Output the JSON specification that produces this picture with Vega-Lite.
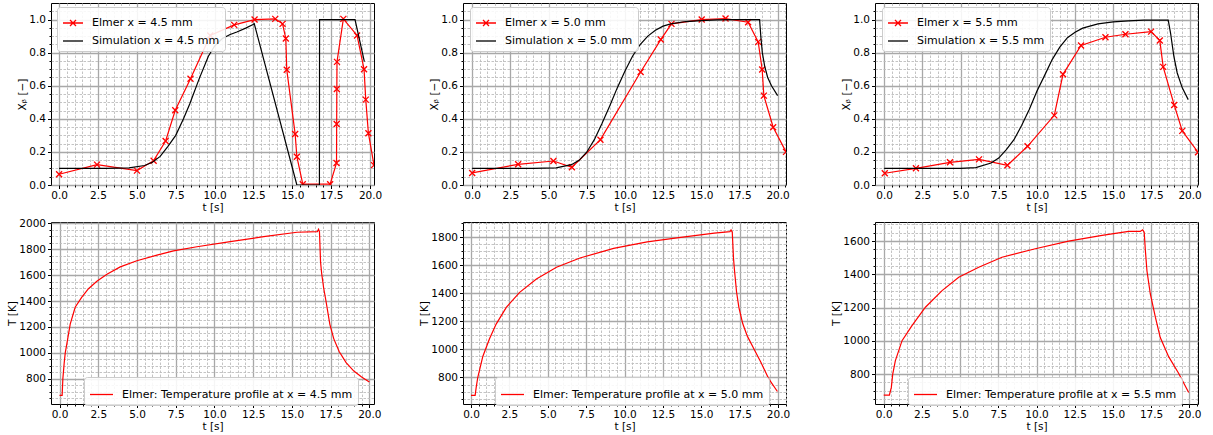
{
  "$schema": "https://vega.github.io/schema/vega-lite/v6.json",
  "background": "white",
  "padding": {"left": 7, "top": 2, "right": 5, "bottom": 3},
  "autosize": {"type": "pad"},
  "columns": 3,
  "spacing": {"row": 37, "column": 89},
  "bounds": "flush",
  "resolve": {"scale": {"color": "independent", "x": "independent", "y": "independent"}, "legend": {"color": "independent"}},
  "config": {
    "font": "DejaVu Sans",
    "view": {"stroke": "#000000", "strokeWidth": 1},
    "axis": {"labelFont": "DejaVu Sans", "labelFontSize": 10.5, "titleFont": "DejaVu Sans", "titleFontSize": 10.5, "titleFontWeight": "normal", "labelColor": "#000000", "titleColor": "#000000", "tickColor": "#000000", "domain": false, "labelPadding": 2, "titlePadding": 1, "labelOverlap": false, "labelFlush": false, "grid": true},
    "legend": {"labelFont": "DejaVu Sans", "labelFontSize": 11, "labelLimit": 500, "labelColor": "#000000", "fillColor": "rgba(255,255,255,0.88)", "strokeColor": "#cccccc", "cornerRadius": 3, "padding": 5, "symbolStrokeWidth": 1.3, "labelOffset": 8, "rowPadding": 1, "symbolType": "stroke"}
  },
  "datasets": {
    "top45": [
      {"t": 0, "X": 0.065, "series": "Elmer x = 4.5 mm"},
      {"t": 2.44, "X": 0.123, "series": "Elmer x = 4.5 mm"},
      {"t": 5.01, "X": 0.087, "series": "Elmer x = 4.5 mm"},
      {"t": 6.08, "X": 0.147, "series": "Elmer x = 4.5 mm"},
      {"t": 6.85, "X": 0.266, "series": "Elmer x = 4.5 mm"},
      {"t": 7.47, "X": 0.452, "series": "Elmer x = 4.5 mm"},
      {"t": 8.45, "X": 0.642, "series": "Elmer x = 4.5 mm"},
      {"t": 9.72, "X": 0.904, "series": "Elmer x = 4.5 mm"},
      {"t": 11.26, "X": 0.968, "series": "Elmer x = 4.5 mm"},
      {"t": 12.57, "X": 1.0, "series": "Elmer x = 4.5 mm"},
      {"t": 13.9, "X": 1.004, "series": "Elmer x = 4.5 mm"},
      {"t": 14.37, "X": 0.974, "series": "Elmer x = 4.5 mm"},
      {"t": 14.58, "X": 0.885, "series": "Elmer x = 4.5 mm"},
      {"t": 14.64, "X": 0.697, "series": "Elmer x = 4.5 mm"},
      {"t": 15.18, "X": 0.308, "series": "Elmer x = 4.5 mm"},
      {"t": 15.29, "X": 0.171, "series": "Elmer x = 4.5 mm"},
      {"t": 15.67, "X": 0.005, "series": "Elmer x = 4.5 mm"},
      {"t": 17.43, "X": 0.005, "series": "Elmer x = 4.5 mm"},
      {"t": 17.84, "X": 0.133, "series": "Elmer x = 4.5 mm"},
      {"t": 17.85, "X": 0.369, "series": "Elmer x = 4.5 mm"},
      {"t": 17.86, "X": 0.58, "series": "Elmer x = 4.5 mm"},
      {"t": 17.87, "X": 0.744, "series": "Elmer x = 4.5 mm"},
      {"t": 18.28, "X": 1.004, "series": "Elmer x = 4.5 mm"},
      {"t": 19.16, "X": 0.904, "series": "Elmer x = 4.5 mm"},
      {"t": 19.61, "X": 0.7, "series": "Elmer x = 4.5 mm"},
      {"t": 19.72, "X": 0.516, "series": "Elmer x = 4.5 mm"},
      {"t": 19.89, "X": 0.313, "series": "Elmer x = 4.5 mm"},
      {"t": 20.25, "X": 0.12, "series": "Elmer x = 4.5 mm"},
      {"t": 0, "X": 0.1, "series": "Simulation x = 4.5 mm"},
      {"t": 3, "X": 0.1, "series": "Simulation x = 4.5 mm"},
      {"t": 4.5, "X": 0.103, "series": "Simulation x = 4.5 mm"},
      {"t": 5.5, "X": 0.118, "series": "Simulation x = 4.5 mm"},
      {"t": 6.0, "X": 0.137, "series": "Simulation x = 4.5 mm"},
      {"t": 6.5, "X": 0.173, "series": "Simulation x = 4.5 mm"},
      {"t": 7.0, "X": 0.234, "series": "Simulation x = 4.5 mm"},
      {"t": 7.5, "X": 0.3, "series": "Simulation x = 4.5 mm"},
      {"t": 8.0, "X": 0.4, "series": "Simulation x = 4.5 mm"},
      {"t": 8.4, "X": 0.49, "series": "Simulation x = 4.5 mm"},
      {"t": 9.0, "X": 0.64, "series": "Simulation x = 4.5 mm"},
      {"t": 9.6, "X": 0.778, "series": "Simulation x = 4.5 mm"},
      {"t": 10.0, "X": 0.84, "series": "Simulation x = 4.5 mm"},
      {"t": 10.5, "X": 0.885, "series": "Simulation x = 4.5 mm"},
      {"t": 11.0, "X": 0.91, "series": "Simulation x = 4.5 mm"},
      {"t": 11.43, "X": 0.925, "series": "Simulation x = 4.5 mm"},
      {"t": 12.0, "X": 0.948, "series": "Simulation x = 4.5 mm"},
      {"t": 12.44, "X": 0.968, "series": "Simulation x = 4.5 mm"},
      {"t": 12.55, "X": 0.975, "series": "Simulation x = 4.5 mm"},
      {"t": 15.29, "X": 0.0, "series": "Simulation x = 4.5 mm"},
      {"t": 16.74, "X": 0.0, "series": "Simulation x = 4.5 mm"},
      {"t": 16.75, "X": 1.0, "series": "Simulation x = 4.5 mm"},
      {"t": 19.03, "X": 1.0, "series": "Simulation x = 4.5 mm"},
      {"t": 19.63, "X": 0.745, "series": "Simulation x = 4.5 mm"}
    ],
    "top50": [
      {"t": 0, "X": 0.073, "series": "Elmer x = 5.0 mm"},
      {"t": 3.01, "X": 0.125, "series": "Elmer x = 5.0 mm"},
      {"t": 5.32, "X": 0.145, "series": "Elmer x = 5.0 mm"},
      {"t": 6.53, "X": 0.107, "series": "Elmer x = 5.0 mm"},
      {"t": 8.4, "X": 0.274, "series": "Elmer x = 5.0 mm"},
      {"t": 11.03, "X": 0.683, "series": "Elmer x = 5.0 mm"},
      {"t": 12.35, "X": 0.879, "series": "Elmer x = 5.0 mm"},
      {"t": 13.05, "X": 0.974, "series": "Elmer x = 5.0 mm"},
      {"t": 15.03, "X": 1.0, "series": "Elmer x = 5.0 mm"},
      {"t": 16.59, "X": 1.006, "series": "Elmer x = 5.0 mm"},
      {"t": 18.07, "X": 0.984, "series": "Elmer x = 5.0 mm"},
      {"t": 18.73, "X": 0.865, "series": "Elmer x = 5.0 mm"},
      {"t": 18.99, "X": 0.698, "series": "Elmer x = 5.0 mm"},
      {"t": 19.1, "X": 0.54, "series": "Elmer x = 5.0 mm"},
      {"t": 19.71, "X": 0.349, "series": "Elmer x = 5.0 mm"},
      {"t": 20.55, "X": 0.2, "series": "Elmer x = 5.0 mm"},
      {"t": 0, "X": 0.1, "series": "Simulation x = 5.0 mm"},
      {"t": 4, "X": 0.1, "series": "Simulation x = 5.0 mm"},
      {"t": 5.5, "X": 0.103, "series": "Simulation x = 5.0 mm"},
      {"t": 6.5, "X": 0.123, "series": "Simulation x = 5.0 mm"},
      {"t": 7.0, "X": 0.149, "series": "Simulation x = 5.0 mm"},
      {"t": 7.5, "X": 0.198, "series": "Simulation x = 5.0 mm"},
      {"t": 8.0, "X": 0.274, "series": "Simulation x = 5.0 mm"},
      {"t": 8.5, "X": 0.371, "series": "Simulation x = 5.0 mm"},
      {"t": 9.0, "X": 0.476, "series": "Simulation x = 5.0 mm"},
      {"t": 9.5, "X": 0.587, "series": "Simulation x = 5.0 mm"},
      {"t": 10.0, "X": 0.688, "series": "Simulation x = 5.0 mm"},
      {"t": 10.5, "X": 0.778, "series": "Simulation x = 5.0 mm"},
      {"t": 11.0, "X": 0.849, "series": "Simulation x = 5.0 mm"},
      {"t": 11.5, "X": 0.9, "series": "Simulation x = 5.0 mm"},
      {"t": 12.0, "X": 0.935, "series": "Simulation x = 5.0 mm"},
      {"t": 12.5, "X": 0.96, "series": "Simulation x = 5.0 mm"},
      {"t": 13.0, "X": 0.974, "series": "Simulation x = 5.0 mm"},
      {"t": 14.0, "X": 0.988, "series": "Simulation x = 5.0 mm"},
      {"t": 15.0, "X": 0.994, "series": "Simulation x = 5.0 mm"},
      {"t": 16.0, "X": 0.998, "series": "Simulation x = 5.0 mm"},
      {"t": 17.0, "X": 1.0, "series": "Simulation x = 5.0 mm"},
      {"t": 18.82, "X": 1.0, "series": "Simulation x = 5.0 mm"},
      {"t": 18.9, "X": 0.9, "series": "Simulation x = 5.0 mm"},
      {"t": 19.0, "X": 0.8, "series": "Simulation x = 5.0 mm"},
      {"t": 19.15, "X": 0.72, "series": "Simulation x = 5.0 mm"},
      {"t": 19.35, "X": 0.65, "series": "Simulation x = 5.0 mm"},
      {"t": 19.6, "X": 0.6, "series": "Simulation x = 5.0 mm"},
      {"t": 20.0, "X": 0.54, "series": "Simulation x = 5.0 mm"}
    ],
    "top55": [
      {"t": 0.04, "X": 0.071, "series": "Elmer x = 5.5 mm"},
      {"t": 2.08, "X": 0.101, "series": "Elmer x = 5.5 mm"},
      {"t": 4.31, "X": 0.137, "series": "Elmer x = 5.5 mm"},
      {"t": 6.21, "X": 0.155, "series": "Elmer x = 5.5 mm"},
      {"t": 8.07, "X": 0.119, "series": "Elmer x = 5.5 mm"},
      {"t": 9.39, "X": 0.234, "series": "Elmer x = 5.5 mm"},
      {"t": 11.14, "X": 0.421, "series": "Elmer x = 5.5 mm"},
      {"t": 11.71, "X": 0.669, "series": "Elmer x = 5.5 mm"},
      {"t": 12.89, "X": 0.843, "series": "Elmer x = 5.5 mm"},
      {"t": 14.49, "X": 0.893, "series": "Elmer x = 5.5 mm"},
      {"t": 15.8, "X": 0.911, "series": "Elmer x = 5.5 mm"},
      {"t": 17.48, "X": 0.927, "series": "Elmer x = 5.5 mm"},
      {"t": 18.05, "X": 0.873, "series": "Elmer x = 5.5 mm"},
      {"t": 18.27, "X": 0.714, "series": "Elmer x = 5.5 mm"},
      {"t": 18.99, "X": 0.484, "series": "Elmer x = 5.5 mm"},
      {"t": 19.52, "X": 0.327, "series": "Elmer x = 5.5 mm"},
      {"t": 20.55, "X": 0.198, "series": "Elmer x = 5.5 mm"},
      {"t": 0, "X": 0.1, "series": "Simulation x = 5.5 mm"},
      {"t": 5, "X": 0.101, "series": "Simulation x = 5.5 mm"},
      {"t": 6, "X": 0.105, "series": "Simulation x = 5.5 mm"},
      {"t": 7.0, "X": 0.133, "series": "Simulation x = 5.5 mm"},
      {"t": 7.5, "X": 0.163, "series": "Simulation x = 5.5 mm"},
      {"t": 8.0, "X": 0.214, "series": "Simulation x = 5.5 mm"},
      {"t": 8.5, "X": 0.274, "series": "Simulation x = 5.5 mm"},
      {"t": 9.0, "X": 0.359, "series": "Simulation x = 5.5 mm"},
      {"t": 9.5, "X": 0.456, "series": "Simulation x = 5.5 mm"},
      {"t": 10.0, "X": 0.567, "series": "Simulation x = 5.5 mm"},
      {"t": 10.5, "X": 0.661, "series": "Simulation x = 5.5 mm"},
      {"t": 11.0, "X": 0.758, "series": "Simulation x = 5.5 mm"},
      {"t": 11.5, "X": 0.833, "series": "Simulation x = 5.5 mm"},
      {"t": 12.0, "X": 0.89, "series": "Simulation x = 5.5 mm"},
      {"t": 12.5, "X": 0.923, "series": "Simulation x = 5.5 mm"},
      {"t": 13.0, "X": 0.948, "series": "Simulation x = 5.5 mm"},
      {"t": 14.0, "X": 0.974, "series": "Simulation x = 5.5 mm"},
      {"t": 15.0, "X": 0.986, "series": "Simulation x = 5.5 mm"},
      {"t": 16.0, "X": 0.992, "series": "Simulation x = 5.5 mm"},
      {"t": 17.0, "X": 0.996, "series": "Simulation x = 5.5 mm"},
      {"t": 18.6, "X": 0.996, "series": "Simulation x = 5.5 mm"},
      {"t": 18.75, "X": 0.92, "series": "Simulation x = 5.5 mm"},
      {"t": 18.97, "X": 0.778, "series": "Simulation x = 5.5 mm"},
      {"t": 19.19, "X": 0.677, "series": "Simulation x = 5.5 mm"},
      {"t": 19.52, "X": 0.587, "series": "Simulation x = 5.5 mm"},
      {"t": 19.91, "X": 0.516, "series": "Simulation x = 5.5 mm"}
    ],
    "bot45": [
      {"t": 0, "T": 673, "series": "Elmer: Temperature profile at x = 4.5 mm"},
      {"t": 0.17, "T": 673, "series": "Elmer: Temperature profile at x = 4.5 mm"},
      {"t": 0.215, "T": 800, "series": "Elmer: Temperature profile at x = 4.5 mm"},
      {"t": 0.3, "T": 920, "series": "Elmer: Temperature profile at x = 4.5 mm"},
      {"t": 0.37, "T": 1000, "series": "Elmer: Temperature profile at x = 4.5 mm"},
      {"t": 0.47, "T": 1067, "series": "Elmer: Temperature profile at x = 4.5 mm"},
      {"t": 0.69, "T": 1222, "series": "Elmer: Temperature profile at x = 4.5 mm"},
      {"t": 1.01, "T": 1352, "series": "Elmer: Temperature profile at x = 4.5 mm"},
      {"t": 1.44, "T": 1430, "series": "Elmer: Temperature profile at x = 4.5 mm"},
      {"t": 1.87, "T": 1495, "series": "Elmer: Temperature profile at x = 4.5 mm"},
      {"t": 2.41, "T": 1552, "series": "Elmer: Temperature profile at x = 4.5 mm"},
      {"t": 3.06, "T": 1606, "series": "Elmer: Temperature profile at x = 4.5 mm"},
      {"t": 3.92, "T": 1663, "series": "Elmer: Temperature profile at x = 4.5 mm"},
      {"t": 4.99, "T": 1710, "series": "Elmer: Temperature profile at x = 4.5 mm"},
      {"t": 6.29, "T": 1754, "series": "Elmer: Temperature profile at x = 4.5 mm"},
      {"t": 7.36, "T": 1787, "series": "Elmer: Temperature profile at x = 4.5 mm"},
      {"t": 8.87, "T": 1818, "series": "Elmer: Temperature profile at x = 4.5 mm"},
      {"t": 11.02, "T": 1857, "series": "Elmer: Temperature profile at x = 4.5 mm"},
      {"t": 13.18, "T": 1896, "series": "Elmer: Temperature profile at x = 4.5 mm"},
      {"t": 15.33, "T": 1930, "series": "Elmer: Temperature profile at x = 4.5 mm"},
      {"t": 16.65, "T": 1935, "series": "Elmer: Temperature profile at x = 4.5 mm"},
      {"t": 16.72, "T": 1953, "series": "Elmer: Temperature profile at x = 4.5 mm"},
      {"t": 16.78, "T": 1935, "series": "Elmer: Temperature profile at x = 4.5 mm"},
      {"t": 16.85, "T": 1700, "series": "Elmer: Temperature profile at x = 4.5 mm"},
      {"t": 16.92, "T": 1614, "series": "Elmer: Temperature profile at x = 4.5 mm"},
      {"t": 17.05, "T": 1500, "series": "Elmer: Temperature profile at x = 4.5 mm"},
      {"t": 17.2, "T": 1400, "series": "Elmer: Temperature profile at x = 4.5 mm"},
      {"t": 17.45, "T": 1220, "series": "Elmer: Temperature profile at x = 4.5 mm"},
      {"t": 17.7, "T": 1110, "series": "Elmer: Temperature profile at x = 4.5 mm"},
      {"t": 18.05, "T": 1010, "series": "Elmer: Temperature profile at x = 4.5 mm"},
      {"t": 18.5, "T": 925, "series": "Elmer: Temperature profile at x = 4.5 mm"},
      {"t": 19.0, "T": 860, "series": "Elmer: Temperature profile at x = 4.5 mm"},
      {"t": 19.5, "T": 815, "series": "Elmer: Temperature profile at x = 4.5 mm"},
      {"t": 20.0, "T": 775, "series": "Elmer: Temperature profile at x = 4.5 mm"}
    ],
    "bot50": [
      {"t": 0, "T": 673, "series": "Elmer: Temperature profile at x = 5.0 mm"},
      {"t": 0.27, "T": 673, "series": "Elmer: Temperature profile at x = 5.0 mm"},
      {"t": 0.34, "T": 730, "series": "Elmer: Temperature profile at x = 5.0 mm"},
      {"t": 0.44, "T": 800, "series": "Elmer: Temperature profile at x = 5.0 mm"},
      {"t": 0.77, "T": 950, "series": "Elmer: Temperature profile at x = 5.0 mm"},
      {"t": 1.2, "T": 1074, "series": "Elmer: Temperature profile at x = 5.0 mm"},
      {"t": 1.64, "T": 1181, "series": "Elmer: Temperature profile at x = 5.0 mm"},
      {"t": 2.3, "T": 1300, "series": "Elmer: Temperature profile at x = 5.0 mm"},
      {"t": 3.17, "T": 1407, "series": "Elmer: Temperature profile at x = 5.0 mm"},
      {"t": 4.26, "T": 1502, "series": "Elmer: Temperature profile at x = 5.0 mm"},
      {"t": 5.57, "T": 1586, "series": "Elmer: Temperature profile at x = 5.0 mm"},
      {"t": 7.1, "T": 1652, "series": "Elmer: Temperature profile at x = 5.0 mm"},
      {"t": 9.29, "T": 1721, "series": "Elmer: Temperature profile at x = 5.0 mm"},
      {"t": 11.48, "T": 1767, "series": "Elmer: Temperature profile at x = 5.0 mm"},
      {"t": 13.66, "T": 1800, "series": "Elmer: Temperature profile at x = 5.0 mm"},
      {"t": 15.85, "T": 1829, "series": "Elmer: Temperature profile at x = 5.0 mm"},
      {"t": 16.87, "T": 1840, "series": "Elmer: Temperature profile at x = 5.0 mm"},
      {"t": 16.94, "T": 1852, "series": "Elmer: Temperature profile at x = 5.0 mm"},
      {"t": 17.02, "T": 1836, "series": "Elmer: Temperature profile at x = 5.0 mm"},
      {"t": 17.1, "T": 1650, "series": "Elmer: Temperature profile at x = 5.0 mm"},
      {"t": 17.16, "T": 1570, "series": "Elmer: Temperature profile at x = 5.0 mm"},
      {"t": 17.3, "T": 1410, "series": "Elmer: Temperature profile at x = 5.0 mm"},
      {"t": 17.45, "T": 1300, "series": "Elmer: Temperature profile at x = 5.0 mm"},
      {"t": 17.7, "T": 1185, "series": "Elmer: Temperature profile at x = 5.0 mm"},
      {"t": 18.0, "T": 1095, "series": "Elmer: Temperature profile at x = 5.0 mm"},
      {"t": 18.4, "T": 1010, "series": "Elmer: Temperature profile at x = 5.0 mm"},
      {"t": 18.9, "T": 905, "series": "Elmer: Temperature profile at x = 5.0 mm"},
      {"t": 19.4, "T": 790, "series": "Elmer: Temperature profile at x = 5.0 mm"},
      {"t": 19.96, "T": 700, "series": "Elmer: Temperature profile at x = 5.0 mm"}
    ],
    "bot55": [
      {"t": 0, "T": 673, "series": "Elmer: Temperature profile at x = 5.5 mm"},
      {"t": 0.37, "T": 673, "series": "Elmer: Temperature profile at x = 5.5 mm"},
      {"t": 0.5, "T": 720, "series": "Elmer: Temperature profile at x = 5.5 mm"},
      {"t": 0.59, "T": 800, "series": "Elmer: Temperature profile at x = 5.5 mm"},
      {"t": 0.76, "T": 880, "series": "Elmer: Temperature profile at x = 5.5 mm"},
      {"t": 1.2, "T": 1001, "series": "Elmer: Temperature profile at x = 5.5 mm"},
      {"t": 1.85, "T": 1091, "series": "Elmer: Temperature profile at x = 5.5 mm"},
      {"t": 2.73, "T": 1202, "series": "Elmer: Temperature profile at x = 5.5 mm"},
      {"t": 3.82, "T": 1302, "series": "Elmer: Temperature profile at x = 5.5 mm"},
      {"t": 4.91, "T": 1383, "series": "Elmer: Temperature profile at x = 5.5 mm"},
      {"t": 6.22, "T": 1443, "series": "Elmer: Temperature profile at x = 5.5 mm"},
      {"t": 7.74, "T": 1503, "series": "Elmer: Temperature profile at x = 5.5 mm"},
      {"t": 9.92, "T": 1554, "series": "Elmer: Temperature profile at x = 5.5 mm"},
      {"t": 12.1, "T": 1600, "series": "Elmer: Temperature profile at x = 5.5 mm"},
      {"t": 14.29, "T": 1634, "series": "Elmer: Temperature profile at x = 5.5 mm"},
      {"t": 16.03, "T": 1658, "series": "Elmer: Temperature profile at x = 5.5 mm"},
      {"t": 16.79, "T": 1658, "series": "Elmer: Temperature profile at x = 5.5 mm"},
      {"t": 16.95, "T": 1668, "series": "Elmer: Temperature profile at x = 5.5 mm"},
      {"t": 17.05, "T": 1654, "series": "Elmer: Temperature profile at x = 5.5 mm"},
      {"t": 17.12, "T": 1550, "series": "Elmer: Temperature profile at x = 5.5 mm"},
      {"t": 17.23, "T": 1420, "series": "Elmer: Temperature profile at x = 5.5 mm"},
      {"t": 17.45, "T": 1282, "series": "Elmer: Temperature profile at x = 5.5 mm"},
      {"t": 17.78, "T": 1142, "series": "Elmer: Temperature profile at x = 5.5 mm"},
      {"t": 18.1, "T": 1020, "series": "Elmer: Temperature profile at x = 5.5 mm"},
      {"t": 18.65, "T": 905, "series": "Elmer: Temperature profile at x = 5.5 mm"},
      {"t": 19.3, "T": 805, "series": "Elmer: Temperature profile at x = 5.5 mm"},
      {"t": 19.96, "T": 689, "series": "Elmer: Temperature profile at x = 5.5 mm"}
    ]
  },
  "concat": [
    {
      "width": 323, "height": 182,
      "data": {"name": "top45"},
      "encoding": {
        "x": {"field": "t", "type": "quantitative", "scale": {"domain": [-0.52, 20.25], "nice": false, "zero": false},
          "axis": {"title": "t [s]", "values": [0,0.5,1,1.5,2,2.5,3,3.5,4,4.5,5,5.5,6,6.5,7,7.5,8,8.5,9,9.5,10,10.5,11,11.5,12,12.5,13,13.5,14,14.5,15,15.5,16,16.5,17,17.5,18,18.5,19,19.5,20],
            "labelExpr": "datum.value % 2.5 === 0 ? format(datum.value, '.1f') : ''",
            "gridColor": {"condition": {"test": "datum.value % 2.5 !== 0", "value": "#bdbdbd"}, "value": "#a8a8a8"},
            "gridDash": {"condition": {"test": "datum.value % 2.5 !== 0", "value": [2.5, 1.5]}, "value": []},
            "gridWidth": {"condition": {"test": "datum.value % 2.5 !== 0", "value": 0.9}, "value": 1.3},
            "tickSize": {"condition": {"test": "datum.value % 2.5 !== 0", "value": 2}, "value": 3.5}}},
        "y": {"field": "X", "type": "quantitative", "scale": {"domain": [0, 1.1], "nice": false},
          "axis": {"title": "Xᵦ [−]", "values": [0,0.05,0.1,0.15,0.2,0.25,0.3,0.35,0.4,0.45,0.5,0.55,0.6,0.65,0.7,0.75,0.8,0.85,0.9,0.95,1.0,1.05],
            "labelExpr": "abs(datum.value*5 - round(datum.value*5)) < 0.001 ? format(datum.value, '.1f') : ''",
            "gridColor": {"condition": {"test": "abs(datum.value*5 - round(datum.value*5)) > 0.001", "value": "#bdbdbd"}, "value": "#a8a8a8"},
            "gridDash": {"condition": {"test": "abs(datum.value*5 - round(datum.value*5)) > 0.001", "value": [2.5, 1.5]}, "value": []},
            "gridWidth": {"condition": {"test": "abs(datum.value*5 - round(datum.value*5)) > 0.001", "value": 0.9}, "value": 1.3},
            "tickSize": {"condition": {"test": "abs(datum.value*5 - round(datum.value*5)) > 0.001", "value": 2}, "value": 3.5}}}
      },
      "layer": [
        {"transform": [{"filter": "indexof(datum.series, 'Elmer') === 0"}],
         "mark": {"type": "point", "shape": "M-1,-1L1,1M-1,1L1,-1", "size": 36, "filled": false, "strokeWidth": 1.3, "color": "#ff0000", "opacity": 1, "clip": true}},
        {"mark": {"type": "line", "strokeWidth": 1.2, "clip": true},
         "encoding": {"color": {"field": "series", "type": "nominal", "scale": {"domain": ["Elmer x = 4.5 mm", "Simulation x = 4.5 mm"], "range": ["#ff0000", "#000000"]},
           "legend": {"title": null, "orient": "none", "legendX": 6, "legendY": 4, "symbolSize": 400,
             "encode": {"symbols": {"update": {"shape": {"signal": "indexof(datum.value, 'Elmer') === 0 ? 'M-1,0L1,0M-0.3,-0.3L0.3,0.3M-0.3,0.3L0.3,-0.3' : 'M-1,0L1,0'"}, "fill": {"value": "transparent"}}}}}}}}
      ]
    },
    {
      "width": 323, "height": 182,
      "data": {"name": "top50"},
      "encoding": {
        "x": {"field": "t", "type": "quantitative", "scale": {"domain": [-0.6, 20.55], "nice": false, "zero": false},
          "axis": {"title": "t [s]", "values": [0,0.5,1,1.5,2,2.5,3,3.5,4,4.5,5,5.5,6,6.5,7,7.5,8,8.5,9,9.5,10,10.5,11,11.5,12,12.5,13,13.5,14,14.5,15,15.5,16,16.5,17,17.5,18,18.5,19,19.5,20,20.5],
            "labelExpr": "datum.value % 2.5 === 0 ? format(datum.value, '.1f') : ''",
            "gridColor": {"condition": {"test": "datum.value % 2.5 !== 0", "value": "#bdbdbd"}, "value": "#a8a8a8"},
            "gridDash": {"condition": {"test": "datum.value % 2.5 !== 0", "value": [2.5, 1.5]}, "value": []},
            "gridWidth": {"condition": {"test": "datum.value % 2.5 !== 0", "value": 0.9}, "value": 1.3},
            "tickSize": {"condition": {"test": "datum.value % 2.5 !== 0", "value": 2}, "value": 3.5}}},
        "y": {"field": "X", "type": "quantitative", "scale": {"domain": [0, 1.1], "nice": false},
          "axis": {"title": "Xᵦ [−]", "values": [0,0.05,0.1,0.15,0.2,0.25,0.3,0.35,0.4,0.45,0.5,0.55,0.6,0.65,0.7,0.75,0.8,0.85,0.9,0.95,1.0,1.05],
            "labelExpr": "abs(datum.value*5 - round(datum.value*5)) < 0.001 ? format(datum.value, '.1f') : ''",
            "gridColor": {"condition": {"test": "abs(datum.value*5 - round(datum.value*5)) > 0.001", "value": "#bdbdbd"}, "value": "#a8a8a8"},
            "gridDash": {"condition": {"test": "abs(datum.value*5 - round(datum.value*5)) > 0.001", "value": [2.5, 1.5]}, "value": []},
            "gridWidth": {"condition": {"test": "abs(datum.value*5 - round(datum.value*5)) > 0.001", "value": 0.9}, "value": 1.3},
            "tickSize": {"condition": {"test": "abs(datum.value*5 - round(datum.value*5)) > 0.001", "value": 2}, "value": 3.5}}}
      },
      "layer": [
        {"transform": [{"filter": "indexof(datum.series, 'Elmer') === 0"}],
         "mark": {"type": "point", "shape": "M-1,-1L1,1M-1,1L1,-1", "size": 36, "filled": false, "strokeWidth": 1.3, "color": "#ff0000", "opacity": 1, "clip": true}},
        {"mark": {"type": "line", "strokeWidth": 1.2, "clip": true},
         "encoding": {"color": {"field": "series", "type": "nominal", "scale": {"domain": ["Elmer x = 5.0 mm", "Simulation x = 5.0 mm"], "range": ["#ff0000", "#000000"]},
           "legend": {"title": null, "orient": "none", "legendX": 7, "legendY": 4, "symbolSize": 400,
             "encode": {"symbols": {"update": {"shape": {"signal": "indexof(datum.value, 'Elmer') === 0 ? 'M-1,0L1,0M-0.3,-0.3L0.3,0.3M-0.3,0.3L0.3,-0.3' : 'M-1,0L1,0'"}, "fill": {"value": "transparent"}}}}}}}}
      ]
    },
    {
      "width": 323, "height": 182,
      "data": {"name": "top55"},
      "encoding": {
        "x": {"field": "t", "type": "quantitative", "scale": {"domain": [-0.6, 20.55], "nice": false, "zero": false},
          "axis": {"title": "t [s]", "values": [0,0.5,1,1.5,2,2.5,3,3.5,4,4.5,5,5.5,6,6.5,7,7.5,8,8.5,9,9.5,10,10.5,11,11.5,12,12.5,13,13.5,14,14.5,15,15.5,16,16.5,17,17.5,18,18.5,19,19.5,20,20.5],
            "labelExpr": "datum.value % 2.5 === 0 ? format(datum.value, '.1f') : ''",
            "gridColor": {"condition": {"test": "datum.value % 2.5 !== 0", "value": "#bdbdbd"}, "value": "#a8a8a8"},
            "gridDash": {"condition": {"test": "datum.value % 2.5 !== 0", "value": [2.5, 1.5]}, "value": []},
            "gridWidth": {"condition": {"test": "datum.value % 2.5 !== 0", "value": 0.9}, "value": 1.3},
            "tickSize": {"condition": {"test": "datum.value % 2.5 !== 0", "value": 2}, "value": 3.5}}},
        "y": {"field": "X", "type": "quantitative", "scale": {"domain": [0, 1.1], "nice": false},
          "axis": {"title": "Xᵦ [−]", "values": [0,0.05,0.1,0.15,0.2,0.25,0.3,0.35,0.4,0.45,0.5,0.55,0.6,0.65,0.7,0.75,0.8,0.85,0.9,0.95,1.0,1.05],
            "labelExpr": "abs(datum.value*5 - round(datum.value*5)) < 0.001 ? format(datum.value, '.1f') : ''",
            "gridColor": {"condition": {"test": "abs(datum.value*5 - round(datum.value*5)) > 0.001", "value": "#bdbdbd"}, "value": "#a8a8a8"},
            "gridDash": {"condition": {"test": "abs(datum.value*5 - round(datum.value*5)) > 0.001", "value": [2.5, 1.5]}, "value": []},
            "gridWidth": {"condition": {"test": "abs(datum.value*5 - round(datum.value*5)) > 0.001", "value": 0.9}, "value": 1.3},
            "tickSize": {"condition": {"test": "abs(datum.value*5 - round(datum.value*5)) > 0.001", "value": 2}, "value": 3.5}}}
      },
      "layer": [
        {"transform": [{"filter": "indexof(datum.series, 'Elmer') === 0"}],
         "mark": {"type": "point", "shape": "M-1,-1L1,1M-1,1L1,-1", "size": 36, "filled": false, "strokeWidth": 1.3, "color": "#ff0000", "opacity": 1, "clip": true}},
        {"mark": {"type": "line", "strokeWidth": 1.2, "clip": true},
         "encoding": {"color": {"field": "series", "type": "nominal", "scale": {"domain": ["Elmer x = 5.5 mm", "Simulation x = 5.5 mm"], "range": ["#ff0000", "#000000"]},
           "legend": {"title": null, "orient": "none", "legendX": 7, "legendY": 4, "symbolSize": 400,
             "encode": {"symbols": {"update": {"shape": {"signal": "indexof(datum.value, 'Elmer') === 0 ? 'M-1,0L1,0M-0.3,-0.3L0.3,0.3M-0.3,0.3L0.3,-0.3' : 'M-1,0L1,0'"}, "fill": {"value": "transparent"}}}}}}}}
      ]
    },
    {
      "width": 323, "height": 182,
      "data": {"name": "bot45"},
      "mark": {"type": "line", "strokeWidth": 1.2, "clip": true},
      "encoding": {
        "x": {"field": "t", "type": "quantitative", "scale": {"domain": [-0.55, 20.3], "nice": false, "zero": false},
          "axis": {"title": "t [s]", "values": [0,0.5,1,1.5,2,2.5,3,3.5,4,4.5,5,5.5,6,6.5,7,7.5,8,8.5,9,9.5,10,10.5,11,11.5,12,12.5,13,13.5,14,14.5,15,15.5,16,16.5,17,17.5,18,18.5,19,19.5,20],
            "labelExpr": "datum.value % 2.5 === 0 ? format(datum.value, '.1f') : ''",
            "gridColor": {"condition": {"test": "datum.value % 2.5 !== 0", "value": "#bdbdbd"}, "value": "#a8a8a8"},
            "gridDash": {"condition": {"test": "datum.value % 2.5 !== 0", "value": [2.5, 1.5]}, "value": []},
            "gridWidth": {"condition": {"test": "datum.value % 2.5 !== 0", "value": 0.9}, "value": 1.3},
            "tickSize": {"condition": {"test": "datum.value % 2.5 !== 0", "value": 2}, "value": 3.5}}},
        "y": {"field": "T", "type": "quantitative", "scale": {"domain": [606, 2009], "nice": false, "zero": false},
          "axis": {"title": "T [K]", "values": [650,700,750,800,850,900,950,1000,1050,1100,1150,1200,1250,1300,1350,1400,1450,1500,1550,1600,1650,1700,1750,1800,1850,1900,1950,2000],
            "labelExpr": "datum.value % 200 === 0 ? format(datum.value, 'd') : ''",
            "gridColor": {"condition": {"test": "datum.value % 200 !== 0", "value": "#bdbdbd"}, "value": "#a8a8a8"},
            "gridDash": {"condition": {"test": "datum.value % 200 !== 0", "value": [2.5, 1.5]}, "value": []},
            "gridWidth": {"condition": {"test": "datum.value % 200 !== 0", "value": 0.9}, "value": 1.3},
            "tickSize": {"condition": {"test": "datum.value % 200 !== 0", "value": 2}, "value": 3.5}}},
        "color": {"field": "series", "type": "nominal", "scale": {"range": ["#ff0000"]},
          "legend": {"title": null, "orient": "none", "legendX": 33, "legendY": 155, "symbolSize": 529}}
      }
    },
    {
      "width": 323, "height": 182,
      "data": {"name": "bot50"},
      "mark": {"type": "line", "strokeWidth": 1.2, "clip": true},
      "encoding": {
        "x": {"field": "t", "type": "quantitative", "scale": {"domain": [-0.52, 20.52], "nice": false, "zero": false},
          "axis": {"title": "t [s]", "values": [0,0.5,1,1.5,2,2.5,3,3.5,4,4.5,5,5.5,6,6.5,7,7.5,8,8.5,9,9.5,10,10.5,11,11.5,12,12.5,13,13.5,14,14.5,15,15.5,16,16.5,17,17.5,18,18.5,19,19.5,20,20.5],
            "labelExpr": "datum.value % 2.5 === 0 ? format(datum.value, '.1f') : ''",
            "gridColor": {"condition": {"test": "datum.value % 2.5 !== 0", "value": "#bdbdbd"}, "value": "#a8a8a8"},
            "gridDash": {"condition": {"test": "datum.value % 2.5 !== 0", "value": [2.5, 1.5]}, "value": []},
            "gridWidth": {"condition": {"test": "datum.value % 2.5 !== 0", "value": 0.9}, "value": 1.3},
            "tickSize": {"condition": {"test": "datum.value % 2.5 !== 0", "value": 2}, "value": 3.5}}},
        "y": {"field": "T", "type": "quantitative", "scale": {"domain": [611, 1909], "nice": false, "zero": false},
          "axis": {"title": "T [K]", "values": [650,700,750,800,850,900,950,1000,1050,1100,1150,1200,1250,1300,1350,1400,1450,1500,1550,1600,1650,1700,1750,1800,1850,1900],
            "labelExpr": "datum.value % 200 === 0 ? format(datum.value, 'd') : ''",
            "gridColor": {"condition": {"test": "datum.value % 200 !== 0", "value": "#bdbdbd"}, "value": "#a8a8a8"},
            "gridDash": {"condition": {"test": "datum.value % 200 !== 0", "value": [2.5, 1.5]}, "value": []},
            "gridWidth": {"condition": {"test": "datum.value % 200 !== 0", "value": 0.9}, "value": 1.3},
            "tickSize": {"condition": {"test": "datum.value % 200 !== 0", "value": 2}, "value": 3.5}}},
        "color": {"field": "series", "type": "nominal", "scale": {"range": ["#ff0000"]},
          "legend": {"title": null, "orient": "none", "legendX": 32, "legendY": 155, "symbolSize": 529}}
      }
    },
    {
      "width": 323, "height": 182,
      "data": {"name": "bot55"},
      "mark": {"type": "line", "strokeWidth": 1.2, "clip": true},
      "encoding": {
        "x": {"field": "t", "type": "quantitative", "scale": {"domain": [-0.57, 20.57], "nice": false, "zero": false},
          "axis": {"title": "t [s]", "values": [0,0.5,1,1.5,2,2.5,3,3.5,4,4.5,5,5.5,6,6.5,7,7.5,8,8.5,9,9.5,10,10.5,11,11.5,12,12.5,13,13.5,14,14.5,15,15.5,16,16.5,17,17.5,18,18.5,19,19.5,20,20.5],
            "labelExpr": "datum.value % 2.5 === 0 ? format(datum.value, '.1f') : ''",
            "gridColor": {"condition": {"test": "datum.value % 2.5 !== 0", "value": "#bdbdbd"}, "value": "#a8a8a8"},
            "gridDash": {"condition": {"test": "datum.value % 2.5 !== 0", "value": [2.5, 1.5]}, "value": []},
            "gridWidth": {"condition": {"test": "datum.value % 2.5 !== 0", "value": 0.9}, "value": 1.3},
            "tickSize": {"condition": {"test": "datum.value % 2.5 !== 0", "value": 2}, "value": 3.5}}},
        "y": {"field": "T", "type": "quantitative", "scale": {"domain": [620, 1715], "nice": false, "zero": false},
          "axis": {"title": "T [K]", "values": [650,700,750,800,850,900,950,1000,1050,1100,1150,1200,1250,1300,1350,1400,1450,1500,1550,1600,1650,1700],
            "labelExpr": "datum.value % 200 === 0 ? format(datum.value, 'd') : ''",
            "gridColor": {"condition": {"test": "datum.value % 200 !== 0", "value": "#bdbdbd"}, "value": "#a8a8a8"},
            "gridDash": {"condition": {"test": "datum.value % 200 !== 0", "value": [2.5, 1.5]}, "value": []},
            "gridWidth": {"condition": {"test": "datum.value % 200 !== 0", "value": 0.9}, "value": 1.3},
            "tickSize": {"condition": {"test": "datum.value % 200 !== 0", "value": 2}, "value": 3.5}}},
        "color": {"field": "series", "type": "nominal", "scale": {"range": ["#ff0000"]},
          "legend": {"title": null, "orient": "none", "legendX": 33, "legendY": 155, "symbolSize": 529}}
      }
    }
  ]
}
